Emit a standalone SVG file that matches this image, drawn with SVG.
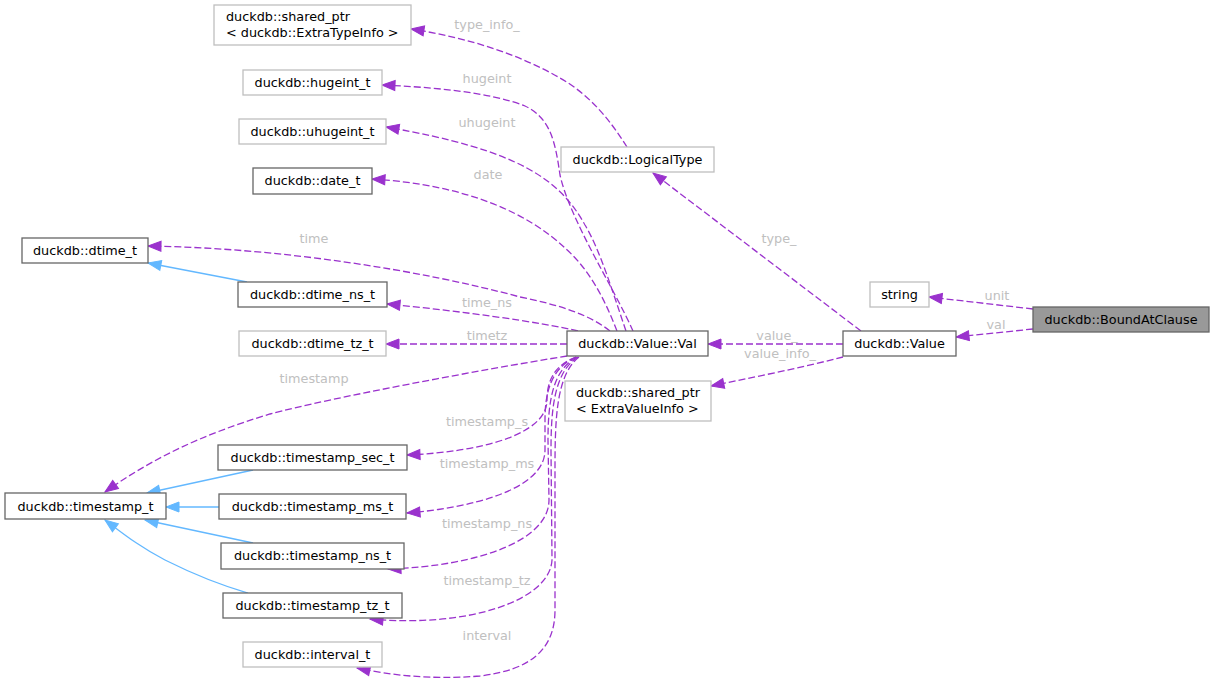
<svg xmlns="http://www.w3.org/2000/svg" width="1215" height="683" viewBox="0 0 1215 683">
<style>
.nd rect{fill:#fff;stroke-width:1.3}
.dk rect{stroke:#666}
.lt rect{stroke:#bfbfbf}
.cur rect{fill:#999;stroke:#666}
text{font-family:"DejaVu Sans","Liberation Sans",sans-serif;font-size:12.8px;fill:#000}
.nd text.c{text-anchor:middle}
.lbl{fill:#c0c0c0;text-anchor:middle}
.e{fill:none;stroke:#9a32cd;stroke-width:1.3;stroke-dasharray:7,3}
.i{fill:none;stroke:#63b8ff;stroke-width:1.3}
</style>
<defs>
<marker id="ap" markerUnits="userSpaceOnUse" markerWidth="14" markerHeight="11" refX="13" refY="5" orient="auto" overflow="visible"><path d="M0,0 L13,5 L0,10 z" fill="#9a32cd" stroke="#9a32cd" stroke-width="1"/></marker>
<marker id="ab" markerUnits="userSpaceOnUse" markerWidth="14" markerHeight="11" refX="13" refY="5" orient="auto" overflow="visible"><path d="M0,0 L13,5 L0,10 z" fill="#63b8ff" stroke="#63b8ff" stroke-width="1"/></marker>
</defs>
<g id="edges">
<path class="e" marker-end="url(#ap)" d="M1033,309 L929,297"/>
<path class="e" marker-end="url(#ap)" d="M1033,329 L956,337"/>
<path class="e" marker-end="url(#ap)" d="M843,344 L708,344"/>
<path class="e" marker-end="url(#ap)" d="M843,357 C800,368 750,378 711,386"/>
<path class="e" marker-end="url(#ap)" d="M861,331 L653,173"/>
<path class="e" marker-end="url(#ap)" d="M627,147 C610,120 590,95 560,78 C520,55 470,38 411,29"/>
<path class="e" marker-end="url(#ap)" d="M633,331 C615,290 570,220 560,175 C555,140 550,118 525,106 C490,92 430,87 382,85"/>
<path class="e" marker-end="url(#ap)" d="M626,331 C612,290 600,250 585,225 C560,180 520,150 386,127"/>
<path class="e" marker-end="url(#ap)" d="M617,331 C605,300 590,270 565,248 C530,215 470,185 372,179"/>
<path class="e" marker-end="url(#ap)" d="M610,331 C590,315 560,305 520,297 C420,270 280,248 148,246"/>
<path class="e" marker-end="url(#ap)" d="M578,331 C540,322 460,311 387,304"/>
<path class="e" marker-end="url(#ap)" d="M567,344 L386,344"/>
<path class="e" marker-end="url(#ap)" d="M567,356 C480,370 330,398 270,414 C200,435 150,460 105,492"/>
<path class="e" marker-end="url(#ap)" d="M576,357 C555,365 547,380 547,400 C547,435 480,452 407,455"/>
<path class="e" marker-end="url(#ap)" d="M576,357 C552,368 545,390 545,420 L545,450 C545,490 470,508 407,513"/>
<path class="e" marker-end="url(#ap)" d="M577,357 C553,370 548,400 548,440 L549,500 C549,540 480,566 388,569"/>
<path class="e" marker-end="url(#ap)" d="M578,357 C554,372 551,410 551,450 L552,560 C550,600 470,628 370,619"/>
<path class="e" marker-end="url(#ap)" d="M579,357 C556,375 555,420 555,470 L555,610 C555,650 530,670 480,676 C430,680 390,675 357,668"/>
<path class="i" marker-end="url(#ab)" d="M247,282 L148,263"/>
<path class="i" marker-end="url(#ab)" d="M253,470 L147,493"/>
<path class="i" marker-end="url(#ab)" d="M219,507 L166,507"/>
<path class="i" marker-end="url(#ab)" d="M253,543 L145,520"/>
<path class="i" marker-end="url(#ab)" d="M248,593 C220,585 195,575 165,560 C140,547 125,535 105,520"/>
<text class="lbl" x="997" y="300">unit</text>
<text class="lbl" x="996" y="329">val</text>
<text class="lbl" x="777" y="340">value_</text>
<text class="lbl" x="780" y="358">value_info_</text>
<text class="lbl" x="779" y="243">type_</text>
<text class="lbl" x="487" y="29">type_info_</text>
<text class="lbl" x="487" y="83">hugeint</text>
<text class="lbl" x="487" y="127">uhugeint</text>
<text class="lbl" x="488" y="179">date</text>
<text class="lbl" x="314" y="243">time</text>
<text class="lbl" x="487" y="307">time_ns</text>
<text class="lbl" x="487" y="340">timetz</text>
<text class="lbl" x="314" y="383">timestamp</text>
<text class="lbl" x="487" y="426">timestamp_s</text>
<text class="lbl" x="487" y="468">timestamp_ms</text>
<text class="lbl" x="487" y="528">timestamp_ns</text>
<text class="lbl" x="487" y="585">timestamp_tz</text>
<text class="lbl" x="487" y="640">interval</text>
</g>
<g id="n_shared_eti" class="nd lt"><rect x="214" y="5" width="197" height="40"/><text x="226" y="21">duckdb::shared_ptr</text><text x="226" y="37">&lt; duckdb::ExtraTypeInfo &gt;</text></g>
<g id="n_hugeint" class="nd lt"><rect x="243" y="70" width="139" height="25"/><text class="c" x="312.5" y="87">duckdb::hugeint_t</text></g>
<g id="n_uhugeint" class="nd lt"><rect x="239" y="119" width="147" height="25"/><text class="c" x="312.5" y="136">duckdb::uhugeint_t</text></g>
<g id="n_date" class="nd dk"><rect x="253" y="168" width="119" height="26"/><text class="c" x="312.5" y="185">duckdb::date_t</text></g>
<g id="n_dtime" class="nd dk"><rect x="22" y="238" width="126" height="25"/><text class="c" x="85" y="255">duckdb::dtime_t</text></g>
<g id="n_dtime_ns" class="nd dk"><rect x="238" y="282" width="149" height="25"/><text class="c" x="312.5" y="299">duckdb::dtime_ns_t</text></g>
<g id="n_dtime_tz" class="nd lt"><rect x="239" y="331" width="147" height="25"/><text class="c" x="312.5" y="348">duckdb::dtime_tz_t</text></g>
<g id="n_val" class="nd dk"><rect x="567" y="331" width="141" height="25"/><text class="c" x="637.5" y="348">duckdb::Value::Val</text></g>
<g id="n_logical" class="nd lt"><rect x="561" y="147" width="153" height="25"/><text class="c" x="637.5" y="164">duckdb::LogicalType</text></g>
<g id="n_value" class="nd dk"><rect x="843" y="331" width="113" height="25"/><text class="c" x="899.5" y="348">duckdb::Value</text></g>
<g id="n_string" class="nd lt"><rect x="870" y="282" width="59" height="25"/><text class="c" x="899.5" y="299">string</text></g>
<g id="n_bac" class="nd cur"><rect x="1033" y="307" width="176" height="25"/><text class="c" x="1121" y="324">duckdb::BoundAtClause</text></g>
<g id="n_shared_evi" class="nd lt"><rect x="565" y="381" width="146" height="40"/><text x="576" y="397">duckdb::shared_ptr</text><text x="576" y="413">&lt; ExtraValueInfo &gt;</text></g>
<g id="n_ts" class="nd dk"><rect x="5" y="493" width="161" height="26"/><text class="c" x="85.5" y="511">duckdb::timestamp_t</text></g>
<g id="n_ts_sec" class="nd dk"><rect x="218" y="445" width="189" height="25"/><text class="c" x="312.5" y="462">duckdb::timestamp_sec_t</text></g>
<g id="n_ts_ms" class="nd dk"><rect x="219" y="494" width="187" height="25"/><text class="c" x="312.5" y="511">duckdb::timestamp_ms_t</text></g>
<g id="n_ts_ns" class="nd dk"><rect x="221" y="543" width="183" height="26"/><text class="c" x="312.5" y="560">duckdb::timestamp_ns_t</text></g>
<g id="n_ts_tz" class="nd dk"><rect x="223" y="593" width="179" height="25"/><text class="c" x="312.5" y="610">duckdb::timestamp_tz_t</text></g>
<g id="n_interval" class="nd lt"><rect x="243" y="642" width="139" height="25"/><text class="c" x="312.5" y="659">duckdb::interval_t</text></g>
</svg>
